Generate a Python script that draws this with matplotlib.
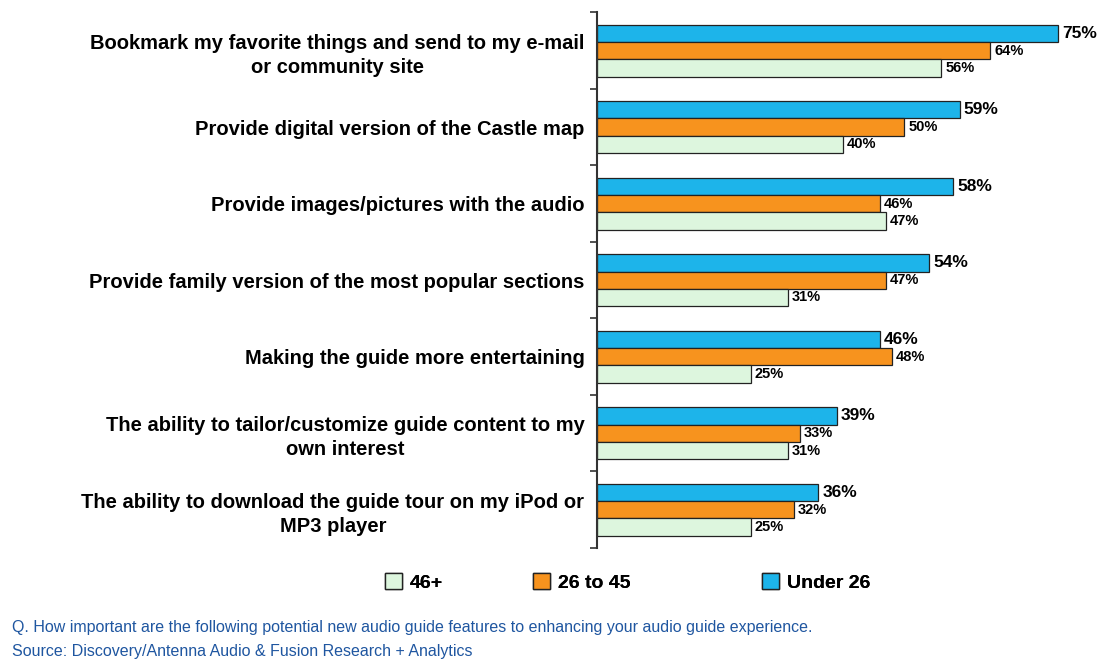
import numpy as np
import matplotlib.pyplot as plt
from matplotlib.patches import Patch

# categories top -> bottom
categories = [
    "Bookmark my favorite things and send to my e-mail\nor community site",
    "Provide digital version of the Castle map",
    "Provide images/pictures with the audio",
    "Provide family version of the most popular sections",
    "Making the guide more entertaining",
    "The ability to tailor/customize guide content to my\nown interest",
    "The ability to download the guide tour on my iPod or\nMP3 player",
]
under26 = [75, 59, 58, 54, 46, 39, 36]
age26_45 = [64, 50, 46, 47, 48, 33, 32]
age46plus = [56, 40, 47, 31, 25, 31, 25]
series_names = ["46+", "26 to 45", "Under 26"]

c_blue = "#1DB4EA"
c_orange = "#F7931E"
c_green = "#DDF6DE"
c_text = "#1F56A0"

plt.rcParams['font.family'] = ['Liberation Sans', 'DejaVu Sans']

fig = plt.figure(figsize=(11.15, 6.68), dpi=100)
ax = fig.add_axes([0.5354, 0.1796, 0.452, 0.802])

y = np.arange(len(categories))
h = 0.226
b1 = ax.barh(y - h, under26, height=h, color=c_blue, edgecolor="#222222", lw=0.9)
b2 = ax.barh(y, age26_45, height=h, color=c_orange, edgecolor="#222222", lw=0.9)
b3 = ax.barh(y + h, age46plus, height=h, color=c_green, edgecolor="#222222", lw=0.9)

ax.bar_label(b1, labels=[f"{v}%" for v in under26], padding=3,
             fontsize=12.5, fontweight="bold")
ax.bar_label(b2, labels=[f"{v}%" for v in age26_45], padding=3,
             fontsize=10.5, fontweight="bold")
ax.bar_label(b3, labels=[f"{v}%" for v in age46plus], padding=3,
             fontsize=10.5, fontweight="bold")

ax.set_xlim(0, 82)
ax.set_ylim(len(categories) - 0.5, -0.5)
ax.set_yticks(y)
ax.set_yticklabels(categories, fontsize=14.5, fontweight="bold",
                   multialignment="center", linespacing=1.35)
ax.set_yticks(np.arange(-0.5, len(categories)), minor=True)
ax.tick_params(axis="y", which="major", length=0, pad=9)
ax.tick_params(axis="y", which="minor", length=5, width=1.2, color="#333333")
ax.set_xticks([])
for s in ["top", "right", "bottom"]:
    ax.spines[s].set_visible(False)
ax.spines["left"].set_linewidth(1.5)
ax.spines["left"].set_color("#333333")

# legend: one entry per legend so the gaps can follow the original
colors = [c_green, c_orange, c_blue]
legend_x = [0.345, 0.478, 0.683]
for name, col, lx in zip(series_names, colors, legend_x):
    lg = fig.legend([Patch(facecolor=col, edgecolor="#222222")], [name],
                    loc="center left", bbox_to_anchor=(lx, 0.128),
                    frameon=False, handlelength=0.9, handleheight=0.9,
                    handletextpad=0.4, borderaxespad=0, borderpad=0,
                    prop={"size": 14, "weight": "bold"})
    fig.add_artist(lg)

fig.text(0.011, 0.06, "Q. How important are the following potential new audio guide "
         "features to enhancing your audio guide experience.",
         color=c_text, fontsize=11.5, va="center")
fig.text(0.011, 0.025, "Source: Discovery/Antenna Audio & Fusion Research + Analytics",
         color=c_text, fontsize=11.5, va="center")

fig.savefig("out.png", dpi=100, facecolor="white")
